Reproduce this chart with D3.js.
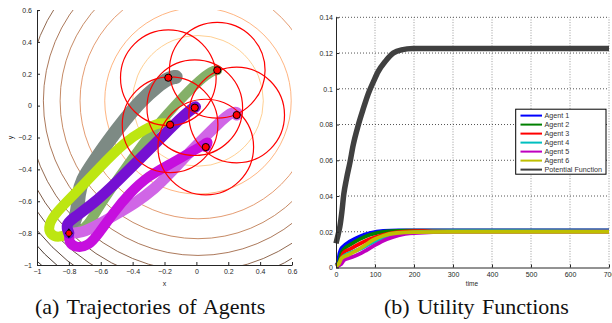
<!DOCTYPE html>
<html><head><meta charset="utf-8">
<script src="https://cdn.jsdelivr.net/npm/d3@7"></script>
<style>html,body{margin:0;padding:0;background:#fff;}svg{display:block;}</style>
</head><body>
<svg id="fig" width="612" height="323"></svg>
<script>
// ---------- DATA: left panel ----------
const leftXTicks = [-1,-0.8,-0.6,-0.4,-0.2,0,0.2,0.4,0.6];
const leftXTickLabels = ["\u22121","\u22120.8","\u22120.6","\u22120.4","\u22120.2","0","0.2","0.4","0.6"];
const leftYTicks = [-1,-0.8,-0.6,-0.4,-0.2,0,0.2,0.4,0.6];
const leftYTickLabels = ["\u22121","\u22120.8","\u22120.6","\u22120.4","\u22120.2","0","0.2","0.4","0.6"];
const contourCenter = [0.01, 0.03];
const contourRadii = [0.41,0.585,0.74,0.865,0.97,1.071,1.152,1.225,1.295,1.36,1.425,1.49];
const sensingRadius = 0.3;
const startPoint = [-0.8,-0.8];
const trajGrey = [[-0.8,-0.8],[-0.77,-0.74],[-0.745,-0.66],[-0.74,-0.56],[-0.72,-0.47],[-0.64,-0.35],[-0.55,-0.22],[-0.45,-0.09],[-0.35,0.03],[-0.25,0.12],[-0.17,0.175],[-0.13,0.18]];
const trajGreen = [[-0.8,-0.8],[-0.74,-0.8],[-0.68,-0.75],[-0.62,-0.65],[-0.55,-0.54],[-0.42,-0.36],[-0.3,-0.19],[-0.18,-0.05],[-0.08,0.06],[0.02,0.16],[0.1,0.22],[0.131,0.222]];
const trajLime = [[-0.8,-0.8],[-0.86,-0.83],[-0.92,-0.81],[-0.93,-0.75],[-0.88,-0.67],[-0.76,-0.55],[-0.6,-0.38],[-0.45,-0.23],[-0.33,-0.15],[-0.22,-0.1],[-0.165,-0.12]];
const trajOrchid = [[-0.8,-0.8],[-0.72,-0.8],[-0.62,-0.75],[-0.5,-0.68],[-0.38,-0.61],[-0.26,-0.52],[-0.16,-0.42],[-0.06,-0.31],[0.04,-0.21],[0.14,-0.11],[0.22,-0.04],[0.26,-0.04],[0.253,-0.059]];
const trajMagenta = [[-0.8,-0.8],[-0.8,-0.86],[-0.76,-0.89],[-0.68,-0.885],[-0.61,-0.8],[-0.52,-0.67],[-0.42,-0.55],[-0.3,-0.44],[-0.17,-0.37],[-0.05,-0.3],[0.04,-0.25],[0.08,-0.22],[0.059,-0.26]];
const trajPurple = [[-0.8,-0.8],[-0.82,-0.75],[-0.78,-0.71],[-0.65,-0.62],[-0.5,-0.48],[-0.35,-0.33],[-0.2,-0.18],[-0.08,-0.06],[0.0,0.0],[-0.01,-0.013]];
const agentFinal = [[-0.176,0.175],[0.131,0.222],[-0.165,-0.12],[0.253,-0.059],[0.059,-0.26],[-0.01,-0.013]];

// ---------- DATA: right panel ----------
const timeTicks = [0,100,200,300,400,500,600,700];
const timeTickLabels = ["0","100","200","300","400","500","600","700"];
const utilTicks = [0,0.02,0.04,0.06,0.08,0.1,0.12,0.14];
const utilTickLabels = ["0","0.02","0.04","0.06","0.08","0.1","0.12","0.14"];
const seriesNames = ["Agent 1","Agent 2","Agent 3","Agent 4","Agent 5","Agent 6","Potential Function"];
const agent1 = [[0,0.001],[5,0.003],[9,0.008],[12,0.010],[19,0.0118],[36,0.0146],[61,0.0174],[87,0.0193],[121,0.0205],[160,0.0207],[700,0.0207]];
const agent2 = [[0,0.001],[8,0.003],[13,0.0075],[19,0.0099],[36,0.0127],[61,0.0159],[87,0.0183],[130,0.0202],[180,0.0206],[700,0.0206]];
const agent3 = [[0,0.001],[10,0.002],[15,0.006],[19,0.0081],[36,0.0103],[61,0.0133],[87,0.0159],[121,0.0183],[155,0.0196],[200,0.0203],[300,0.0205],[700,0.0205]];
const agent4 = [[0,0.001],[10,0.002],[19,0.0062],[36,0.0081],[61,0.0103],[87,0.0133],[121,0.0165],[155,0.0187],[198,0.0196],[300,0.0203],[700,0.0204]];
const agent5 = [[0,0.0005],[14,0.002],[20,0.004],[32,0.0052],[53,0.0068],[79,0.0098],[100,0.0125],[130,0.0158],[160,0.018],[200,0.0192],[300,0.0199],[700,0.02]];
const agent6 = [[0,0.0008],[7,0.002],[14.5,0.0052],[32,0.0071],[49,0.009],[70,0.0118],[96,0.0155],[121,0.0178],[155,0.0193],[198,0.0198],[300,0.0199],[700,0.0199]];
const potential = [[0,0.0135],[5,0.018],[10,0.023],[15,0.031],[20,0.041],[27,0.0497],[36,0.059],[44,0.0684],[57,0.0796],[70,0.0889],[83,0.0974],[96,0.104],[108,0.1096],[126,0.1152],[147,0.120],[168,0.1218],[198,0.1225],[250,0.1226],[700,0.1226]];

// ---------- STYLES ----------
const trajStyles = [
  {data: trajGrey, color:"#7d8a84", w:14},
  {data: trajGreen, color:"#85b068", w:10},
  {data: trajLime, color:"#bde611", w:10},
  {data: trajOrchid, color:"#d066e6", w:11},
  {data: trajMagenta, color:"#c60fde", w:10},
  {data: trajPurple, color:"#7510d2", w:11}
];
const seriesColors = ["#0000ff","#008000","#ff0000","#00bfbf","#bf00bf","#bfbf00","#404040"];
const seriesData = [agent1,agent2,agent3,agent4,agent5,agent6,potential];
const FONT = "'Liberation Sans', Arial, Helvetica, sans-serif";
const TICKFS = "7px";

const svg = d3.select("#fig");

// ================= LEFT PANEL =================
const xL = d3.scaleLinear().domain([-1,0.6]).range([37,292]);
const yL = d3.scaleLinear().domain([-1,0.6]).range([265,10]);
const pxPerUnit = xL(1)-xL(0);

svg.append("defs").append("clipPath").attr("id","clipL")
  .append("rect").attr("x",37).attr("y",10).attr("width",255).attr("height",255);

const gL = svg.append("g").attr("clip-path","url(#clipL)");
const copper = t => { t=Math.max(0,Math.min(1,t)); return d3.rgb(Math.min(255,255*1.25*t),255*0.7812*t,255*0.4975*t).toString(); };
const tScale = d3.scaleLinear().domain([0.41,1.5]).range([1,0.01]);
gL.selectAll("circle.contour").data(contourRadii).enter().append("circle")
  .attr("class","contour")
  .attr("cx",xL(contourCenter[0])).attr("cy",yL(contourCenter[1]))
  .attr("r",d=>d*pxPerUnit)
  .attr("fill","none").attr("stroke",d=>copper(tScale(d))).attr("stroke-width",1)
  .attr("stroke-opacity",0.85);

const lineL = d3.line().x(d=>xL(d[0])).y(d=>yL(d[1])).curve(d3.curveBasis);
gL.selectAll("path.traj").data(trajStyles).enter().append("path")
  .attr("class","traj")
  .attr("d",d=>lineL(d.data))
  .attr("fill","none").attr("stroke",d=>d.color).attr("stroke-width",d=>d.w)
  .attr("stroke-linecap","round").attr("stroke-linejoin","round");

gL.selectAll("circle.sense").data(agentFinal).enter().append("circle")
  .attr("class","sense")
  .attr("cx",d=>xL(d[0])).attr("cy",d=>yL(d[1]))
  .attr("r",sensingRadius*pxPerUnit)
  .attr("fill","none").attr("stroke","#ff0000").attr("stroke-width",1.2);

gL.selectAll("circle.agent").data(agentFinal).enter().append("circle")
  .attr("class","agent")
  .attr("cx",d=>xL(d[0])).attr("cy",d=>yL(d[1])).attr("r",3.6)
  .attr("fill","#ff0000").attr("stroke","#000").attr("stroke-width",1);

// start diamond
const sx = xL(startPoint[0]), sy = yL(startPoint[1]);
gL.append("path").attr("d",`M${sx},${sy-5}L${sx+4},${sy}L${sx},${sy+5}L${sx-4},${sy}Z`)
  .attr("fill","#000");
gL.append("circle").attr("cx",sx).attr("cy",sy).attr("r",2.6).attr("fill","#ff0000");

// axes left
const axXL = d3.axisBottom(xL).tickValues(leftXTicks).tickFormat((d,i)=>leftXTickLabels[i])
  .tickSizeInner(-3).tickSizeOuter(0).tickPadding(4);
const axYL = d3.axisLeft(yL).tickValues(leftYTicks).tickFormat((d,i)=>leftYTickLabels[i])
  .tickSizeInner(-3).tickSizeOuter(0).tickPadding(5);
function styleAxis(g){
  g.selectAll("path.domain").attr("stroke","#262626").attr("stroke-width",1);
  g.selectAll(".tick line").attr("stroke","#262626");
  g.selectAll(".tick text").attr("fill","#262626").style("font-family",FONT).style("font-size",TICKFS);
  g.attr("font-family",null).attr("font-size",null);
}
svg.append("g").attr("transform","translate(0,265)").call(axXL).call(styleAxis);
svg.append("g").attr("transform","translate(37,0)").call(axYL).call(styleAxis);

svg.append("text").attr("x",164.5).attr("y",285.5).attr("text-anchor","middle")
  .style("font-family",FONT).style("font-size","7px").attr("fill","#262626").text("x");
svg.append("text").attr("transform","translate(13,137.5) rotate(-90)").attr("text-anchor","middle")
  .style("font-family",FONT).style("font-size","7px").attr("fill","#262626").text("y");

// ================= RIGHT PANEL =================
const xR = d3.scaleLinear().domain([0,700]).range([336,609]);
const yR = d3.scaleLinear().domain([0,0.14]).range([267.5,17.3]);

const grid = svg.append("g");
grid.selectAll("line.vg").data(timeTicks.slice(1)).enter().append("line")
  .attr("x1",d=>xR(d)).attr("x2",d=>xR(d)).attr("y1",yR(0)).attr("y2",yR(0.14))
  .attr("stroke","#9a9a9a").attr("stroke-width",1).attr("stroke-dasharray","1,1.6");
grid.selectAll("line.hg").data(utilTicks.slice(1)).enter().append("line")
  .attr("y1",d=>yR(d)).attr("y2",d=>yR(d)).attr("x1",xR(0)).attr("x2",xR(700))
  .attr("stroke","#555").attr("stroke-width",1).attr("stroke-dasharray","1,2");

const lineR = d3.line().x(d=>xR(d[0])).y(d=>yR(d[1])).curve(d3.curveMonotoneX);
svg.append("g").selectAll("path.series").data(seriesData).enter().append("path")
  .attr("class","series")
  .attr("d",d=>lineR(d)).attr("fill","none")
  .attr("stroke",(d,i)=>seriesColors[i])
  .attr("stroke-width",(d,i)=> i===6 ? 5.5 : 3.8)
  .attr("stroke-linejoin","round");

const axXR = d3.axisBottom(xR).tickValues(timeTicks).tickFormat((d,i)=>timeTickLabels[i])
  .tickSizeInner(-3).tickSizeOuter(0).tickPadding(5);
const axYR = d3.axisLeft(yR).tickValues(utilTicks).tickFormat((d,i)=>utilTickLabels[i])
  .tickSizeInner(-3).tickSizeOuter(0).tickPadding(3);
svg.append("g").attr("transform","translate(0,267.5)").call(axXR).call(styleAxis);
svg.append("g").attr("transform","translate(336,0)").call(axYR).call(styleAxis);

svg.append("text").attr("x",472).attr("y",286).attr("text-anchor","middle")
  .style("font-family",FONT).style("font-size","6.5px").attr("fill","#262626").text("time");

// legend
const lg = svg.append("g");
lg.append("rect").attr("x",515.7).attr("y",109.2).attr("width",90.3).attr("height",65)
  .attr("fill","#fff").attr("stroke","#000").attr("stroke-width",1);
seriesNames.forEach((n,i)=>{
  const yy = 115.6 + i*9;
  lg.append("line").attr("x1",520.5).attr("x2",542).attr("y1",yy).attr("y2",yy)
    .attr("stroke",seriesColors[i]).attr("stroke-width",2);
  lg.append("text").attr("x",544.5).attr("y",yy+2.7)
    .style("font-family",FONT).style("font-size","7.2px").attr("fill","#333").text(n);
});

// captions
const CAP = "'Liberation Serif','Times New Roman',Times,serif";
svg.append("text").attr("x",35).attr("y",314).style("font-family",CAP).style("font-size","22px")
  .style("word-spacing","2px").attr("fill","#111").text("(a) Trajectories of Agents");
svg.append("text").attr("x",384).attr("y",314).style("font-family",CAP).style("font-size","22px")
  .style("word-spacing","2px").attr("fill","#111").text("(b) Utility Functions");
</script>
</body></html>
